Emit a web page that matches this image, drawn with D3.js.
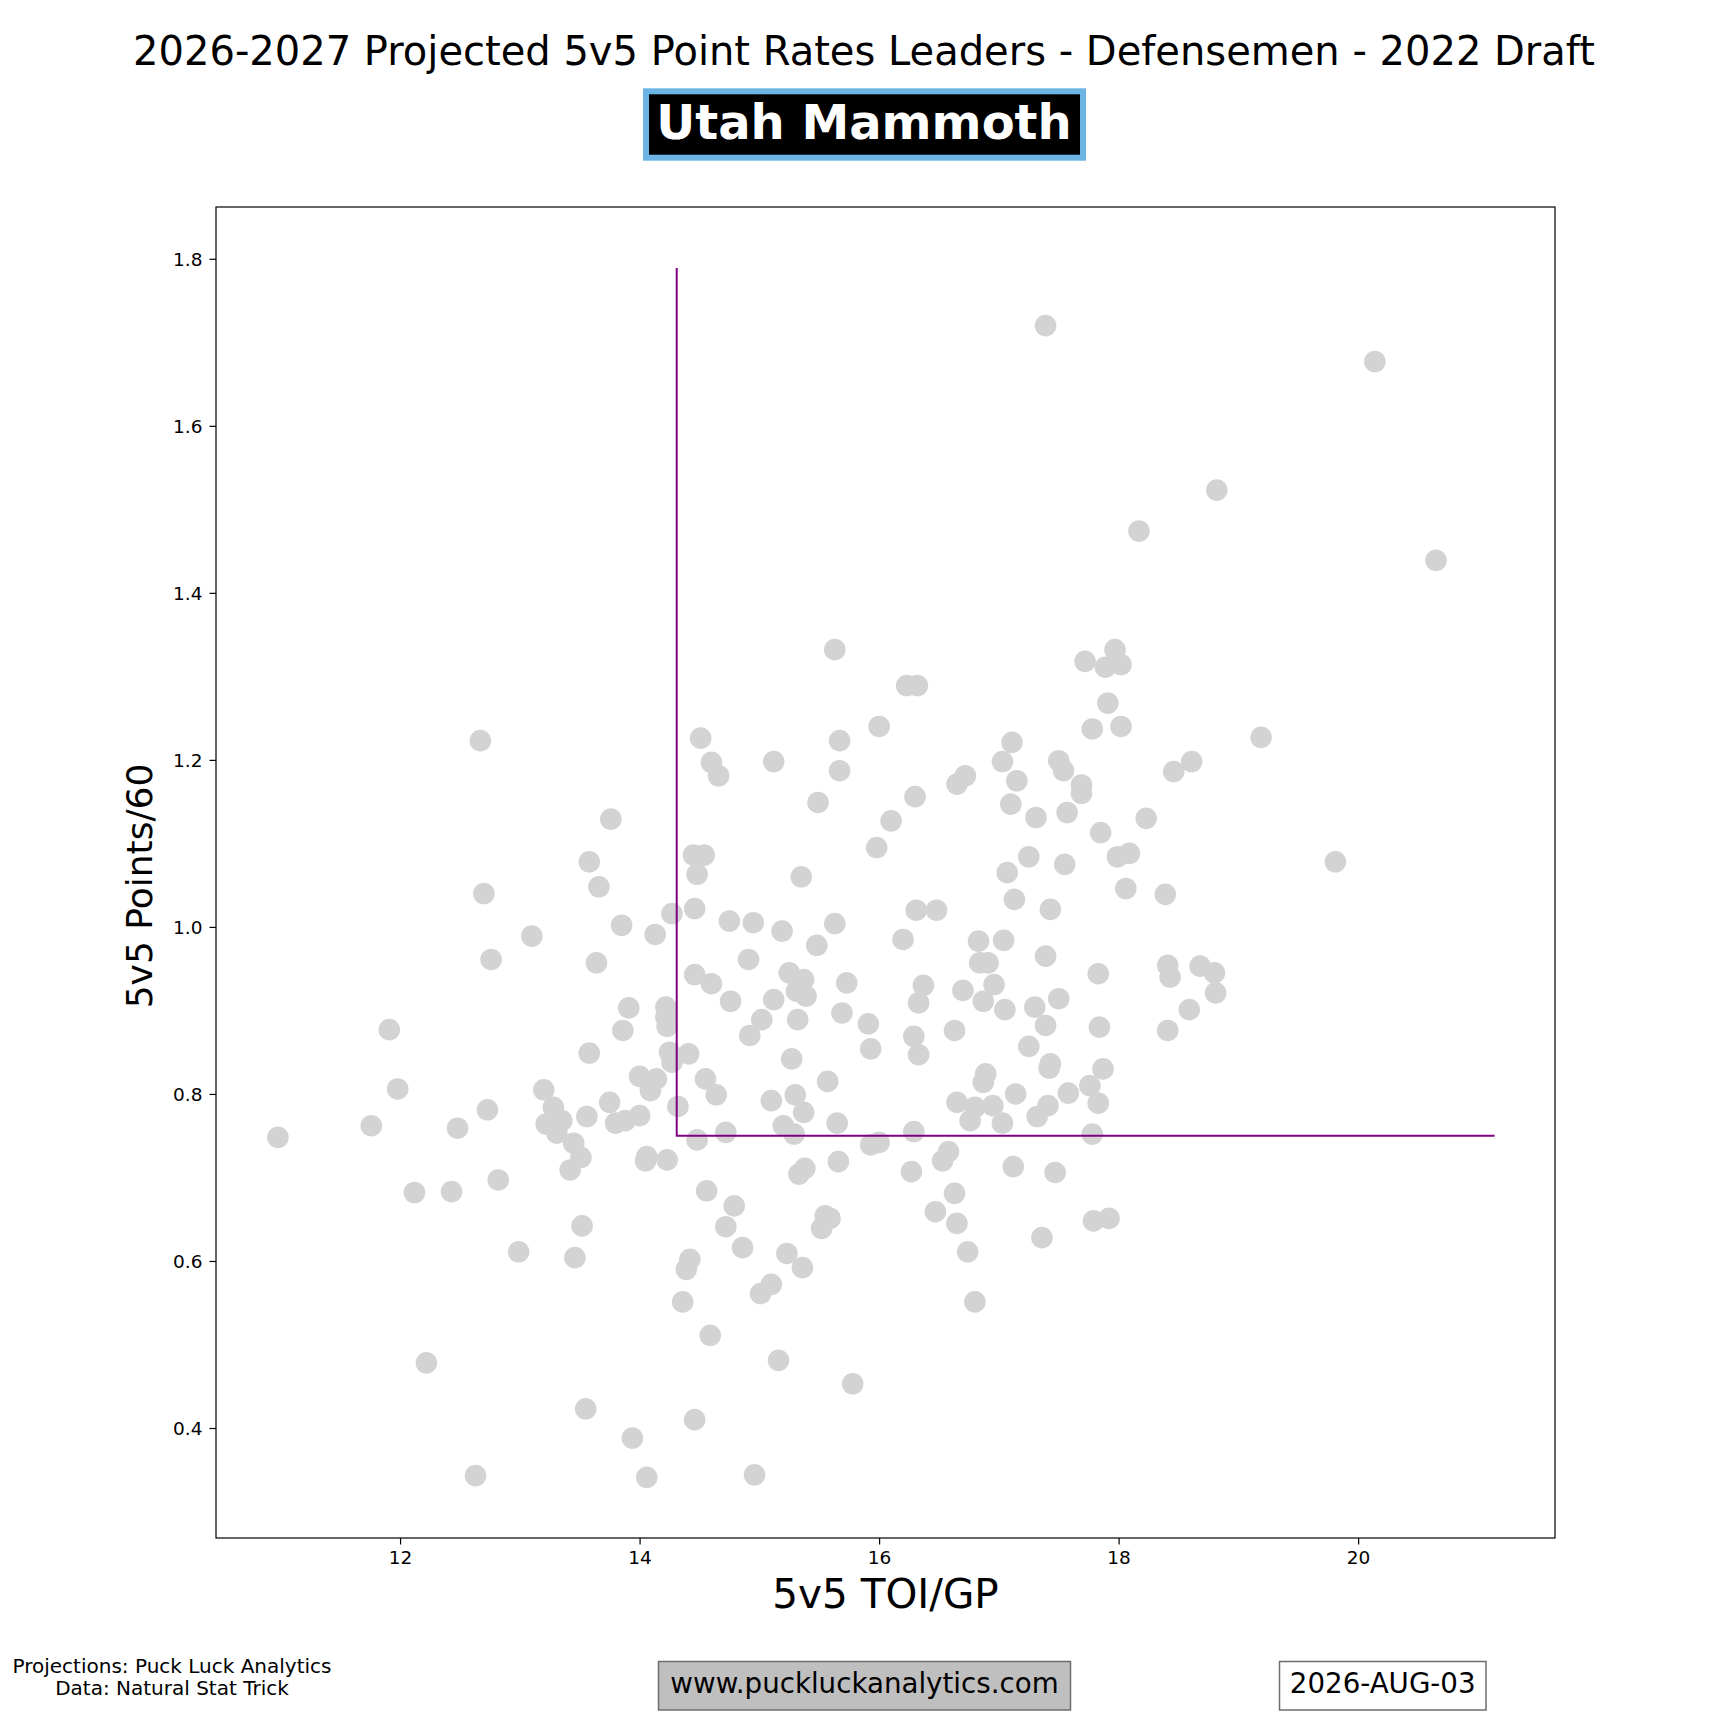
<!DOCTYPE html>
<html><head><meta charset="utf-8">
<script src="https://cdn.jsdelivr.net/npm/d3@7"></script>
<style>
body{margin:0;background:#fff}
svg{display:block}
text{font-family:"DejaVu Sans",sans-serif}
</style>
</head><body>
<svg id="chart" width="1728" height="1728"></svg>
<script>
// ---- data ----
const chartTitle = "2026-2027 Projected 5v5 Point Rates Leaders - Defensemen - 2022 Draft";
const teamName = "Utah Mammoth";
const xLabel = "5v5 TOI/GP";
const yLabel = "5v5 Points/60";
const footerLeft = ["Projections: Puck Luck Analytics", "Data: Natural Stat Trick"];
const footerUrl = "www.puckluckanalytics.com";
const footerDate = "2026-AUG-03";
const xTicks = [12, 14, 16, 18, 20];
const yTicks = [0.4, 0.6, 0.8, 1.0, 1.2, 1.4, 1.6, 1.8];
const cutoffTOI = 14.31;
const cutoffPts = 0.75;
const lineTopPts = 1.789;
const lineEndTOI = 21.14;

const toiPerGP = [
17.39,20.14,18.82,18.17,20.65,15.63,16.23,16.32,17.72,17.97,17.89,18.02,17.91,
12.67,14.51,14.60,14.66,15.12,13.76,13.58,13.66,12.70,14.45,14.54,14.48,14.46,14.27,
13.85,14.13,13.10,14.75,14.95,12.76,13.64,14.91,14.46,14.60,14.76,15.12,15.02,14.92,
13.91,14.22,14.22,14.23,13.86,11.91,13.58,14.25,14.27,14.41,11.98,13.20,14.00,14.14,
14.09,14.55,14.64,15.10,13.28,13.35,13.22,13.31,13.45,13.51,13.42,13.56,13.75,13.80,
13.88,14.00,14.32,14.48,14.72,14.06,14.05,14.23,12.73,12.48,11.76,10.98,12.82,12.12,
12.43,14.56,
16.00,17.78,18.02,19.19,15.67,15.67,17.11,17.03,17.50,17.54,17.15,16.72,16.65,18.61,
18.46,17.69,17.69,15.49,16.30,17.10,17.31,17.57,18.23,16.10,15.98,17.85,17.25,17.99,
18.09,17.55,17.07,15.35,18.06,18.39,17.13,16.31,16.48,17.43,15.19,15.63,15.48,16.20,
16.83,17.04,17.39,16.84,16.91,17.83,18.41,18.43,18.68,18.80,18.81,18.59,18.41,15.25,
15.37,15.31,15.39,15.73,16.37,16.33,16.70,16.96,16.87,17.05,17.30,17.50,17.39,17.84,
15.32,15.69,15.91,15.93,16.29,16.33,16.63,17.25,15.27,15.57,15.30,15.37,15.65,15.20,
15.29,16.89,16.87,17.43,17.42,17.87,17.76,17.83,17.58,17.14,16.65,16.80,16.95,16.76,
17.03,17.41,17.32,17.78,16.29,16.00,15.93,16.58,16.53,15.66,15.38,15.33,16.27,17.12,
17.47,16.63,
14.79,13.52,14.72,14.86,15.23,12.99,13.46,14.42,14.39,15.10,15.01,14.36,14.59,15.16,
12.22,13.55,14.46,13.94,12.63,14.06,14.96,16.47,16.65,16.74,16.80,15.55,15.59,15.52,
15.36,15.78,17.36,17.79,17.92,19.81
];
const pointsPer60 = [
1.720,1.677,1.523,1.474,1.439,1.332,1.289,1.289,1.318,1.332,1.311,1.314,1.268,
1.223,1.226,1.197,1.181,1.198,1.129,1.078,1.048,1.040,1.086,1.086,1.063,1.022,1.016,
1.002,0.991,0.989,1.007,1.005,0.961,0.957,0.961,0.943,0.932,0.911,0.913,0.889,0.870,
0.903,0.904,0.892,0.881,0.876,0.877,0.849,0.850,0.838,0.848,0.806,0.805,0.821,0.818,
0.804,0.818,0.799,0.792,0.784,0.768,0.764,0.753,0.741,0.724,0.709,0.773,0.790,0.765,
0.768,0.774,0.785,0.745,0.754,0.725,0.720,0.721,0.781,0.759,0.762,0.748,0.697,0.682,
0.683,0.684,
1.240,1.237,1.240,1.227,1.223,1.187,1.221,1.198,1.199,1.187,1.175,1.181,1.171,1.198,
1.186,1.170,1.160,1.149,1.156,1.147,1.131,1.137,1.130,1.127,1.095,1.113,1.084,1.084,
1.088,1.075,1.065,1.060,1.046,1.039,1.033,1.020,1.020,1.021,0.995,1.004,0.978,0.985,
0.983,0.984,0.965,0.957,0.957,0.944,0.954,0.940,0.953,0.945,0.921,0.901,0.876,0.945,
0.937,0.923,0.917,0.933,0.930,0.909,0.924,0.931,0.911,0.901,0.904,0.914,0.882,0.880,
0.889,0.897,0.884,0.854,0.869,0.847,0.876,0.857,0.842,0.815,0.799,0.778,0.765,0.762,
0.752,0.824,0.814,0.836,0.831,0.830,0.810,0.789,0.801,0.800,0.790,0.784,0.786,0.768,
0.765,0.786,0.773,0.752,0.755,0.742,0.739,0.731,0.720,0.719,0.711,0.704,0.707,0.713,
0.706,0.681,
0.666,0.642,0.641,0.616,0.609,0.611,0.604,0.602,0.590,0.572,0.561,0.551,0.511,0.481,
0.478,0.423,0.410,0.388,0.343,0.341,0.344,0.659,0.645,0.611,0.551,0.654,0.651,0.639,
0.592,0.453,0.628,0.648,0.651,1.078
];

// ---- layout ----
const W = 1728, H = 1728;
const plot = {left: 216, right: 1555, top: 207, bottom: 1538};
const svg = d3.select("#chart");
svg.append("rect").attr("width", W).attr("height", H).attr("fill", "#fff");

const x = d3.scaleLinear().domain([10.463, 21.644]).range([plot.left, plot.right]);
const y = d3.scaleLinear().domain([0.2683, 1.862]).range([plot.bottom, plot.top]);

// title
svg.append("text").attr("x", 864).attr("y", 65).attr("text-anchor", "middle")
  .attr("font-size", 40).attr("fill", "#000").text(chartTitle);

// team box
svg.append("rect").attr("x", 646).attr("y", 91.3).attr("width", 437).attr("height", 66.4)
  .attr("fill", "#000").attr("stroke", "#6CB4E4").attr("stroke-width", 6);
svg.append("text").attr("x", 864).attr("y", 139).attr("text-anchor", "middle")
  .attr("font-size", 48).attr("font-weight", "bold").attr("fill", "#fff").text(teamName);

// points
const pts = toiPerGP.map((v, i) => ({x: v, y: pointsPer60[i]}));
svg.append("g").selectAll("circle").data(pts).join("circle")
  .attr("cx", d => x(d.x)).attr("cy", d => y(d.y)).attr("r", 10.8)
  .attr("fill", "#d3d3d3");

// cutoff lines
const lineGen = d3.line().x(d => x(d[0])).y(d => y(d[1]));
svg.append("path")
  .attr("d", lineGen([[cutoffTOI, lineTopPts], [cutoffTOI, cutoffPts], [lineEndTOI, cutoffPts]]))
  .attr("fill", "none").attr("stroke", "#800080").attr("stroke-width", 2);

// axes
const xAxis = d3.axisBottom(x).tickValues(xTicks).tickFormat(d3.format("d"))
  .tickSize(6.5).tickSizeOuter(0).tickPadding(6);
const yAxis = d3.axisLeft(y).tickValues(yTicks).tickFormat(d3.format(".1f"))
  .tickSize(6.5).tickSizeOuter(0).tickPadding(7);
const gx = svg.append("g").attr("transform", `translate(0,${plot.bottom})`).call(xAxis);
const gy = svg.append("g").attr("transform", `translate(${plot.left},0)`).call(yAxis);
[gx, gy].forEach(g => {
  g.select(".domain").remove();
  g.selectAll(".tick line").attr("stroke", "#000").attr("stroke-width", 1.2);
  g.selectAll(".tick text").attr("font-size", 18.5).attr("fill", "#000")
    .attr("font-family", "DejaVu Sans");
});
gy.selectAll(".tick text").attr("dy", "0.36em");

// frame
svg.append("rect").attr("x", plot.left).attr("y", plot.top)
  .attr("width", plot.right - plot.left).attr("height", plot.bottom - plot.top)
  .attr("fill", "none").attr("stroke", "#000").attr("stroke-width", 1.2);

// axis labels
svg.append("text").attr("x", (plot.left + plot.right) / 2).attr("y", 1608)
  .attr("text-anchor", "middle").attr("font-size", 40.5).attr("fill", "#000").text(xLabel);
svg.append("text").attr("transform", `translate(152,886) rotate(-90)`)
  .attr("text-anchor", "middle").attr("font-size", 36).attr("fill", "#000").text(yLabel);

// footer
svg.append("text").attr("x", 172).attr("y", 1672.5).attr("text-anchor", "middle")
  .attr("font-size", 20).attr("fill", "#000").text(footerLeft[0]);
svg.append("text").attr("x", 172).attr("y", 1694.5).attr("text-anchor", "middle")
  .attr("font-size", 20).attr("fill", "#000").text(footerLeft[1]);

svg.append("rect").attr("x", 658.5).attr("y", 1661.5).attr("width", 412).attr("height", 48.5)
  .attr("fill", "#bfbfbf").attr("stroke", "#6e6e6e").attr("stroke-width", 1.5);
svg.append("text").attr("x", 864.5).attr("y", 1693).attr("text-anchor", "middle")
  .attr("font-size", 27.7).attr("fill", "#000").text(footerUrl);

svg.append("rect").attr("x", 1279.5).attr("y", 1661.5).attr("width", 206.5).attr("height", 48.5)
  .attr("fill", "#fff").attr("stroke", "#6e6e6e").attr("stroke-width", 1.5);
svg.append("text").attr("x", 1382.7).attr("y", 1693).attr("text-anchor", "middle")
  .attr("font-size", 27.7).attr("fill", "#000").text(footerDate);
</script>
</body></html>
